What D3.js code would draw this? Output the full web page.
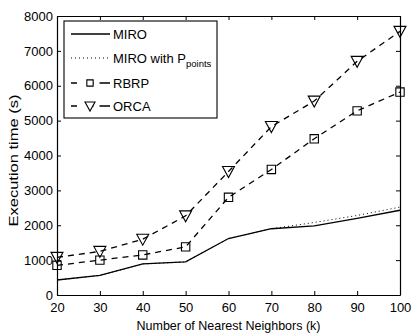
<!DOCTYPE html>
<html>
<head>
<meta charset="utf-8">
<script src="https://cdn.jsdelivr.net/npm/d3@7"></script>
<style>
  body { margin: 0; background: #fff; }
  text { font-family: "Liberation Sans", Arial, sans-serif; }
</style>
</head>
<body>
<svg id="chart" width="413" height="335"></svg>
<script>
// data
const kValues = [20, 30, 40, 50, 60, 70, 80, 90, 100];
const miro = [430, 560, 890, 950, 1620, 1900, 1980, 2200, 2430];
const miroPoints = [430, 560, 890, 950, 1620, 1900, 2080, 2280, 2520];
const rbrp = [850, 1000, 1150, 1380, 2800, 3600, 4480, 5280, 5820];
const orca = [1080, 1250, 1600, 2270, 3540, 4830, 5560, 6700, 7560];
const yTicks = [0, 1000, 2000, 3000, 4000, 5000, 6000, 7000, 8000];

const margin = {top: 16, right: 13, bottom: 40, left: 57};
const width = 413, height = 335;

const svg = d3.select('svg#chart');

const x = d3.scaleLinear().domain([20, 100]).range([margin.left, width - margin.right]);
const y = d3.scaleLinear().domain([0, 8000]).range([height - margin.bottom, margin.top]);

// axes, ticks inward (matlab box)
svg.append('g')
  .attr('transform', `translate(0,${height - margin.bottom})`)
  .call(d3.axisBottom(x).tickValues(kValues).tickSize(-4).tickPadding(8).tickSizeOuter(0))
  .call(g => g.selectAll('text').attr('font-size', 13).attr('fill', '#000'));
svg.append('g')
  .attr('transform', `translate(0,${margin.top})`)
  .call(d3.axisTop(x).tickValues(kValues).tickSize(-4).tickSizeOuter(0))
  .call(g => g.selectAll('text').remove());
svg.append('g')
  .attr('transform', `translate(${margin.left},0)`)
  .call(d3.axisLeft(y).tickValues(yTicks).tickFormat(d3.format('d')).tickSize(-4).tickPadding(4).tickSizeOuter(0))
  .call(g => g.selectAll('text').attr('font-size', 13).attr('fill', '#000'));
svg.append('g')
  .attr('transform', `translate(${width - margin.right},0)`)
  .call(d3.axisRight(y).tickValues(yTicks).tickSize(-4).tickSizeOuter(0))
  .call(g => g.selectAll('text').remove());
svg.selectAll('.domain').attr('stroke', '#000').attr('stroke-width', 1.2);

svg.append('text')
  .attr('x', (margin.left + width - margin.right) / 2)
  .attr('y', 330)
  .attr('text-anchor', 'middle')
  .attr('font-size', 13)
  .attr('textLength', 184)
  .attr('lengthAdjust', 'spacingAndGlyphs')
  .text('Number of Nearest Neighbors (k)');
svg.append('text')
  .attr('transform', `translate(18,${(margin.top + height - margin.bottom) / 2 + 5}) rotate(-90)`)
  .attr('text-anchor', 'middle')
  .attr('font-size', 13)
  .attr('textLength', 132)
  .attr('lengthAdjust', 'spacingAndGlyphs')
  .text('Execution time (s)');

const line = d3.line().x((d, i) => x(kValues[i])).y(d => y(d));

function drawSeries(vals, dash, width) {
  svg.append('path')
    .datum(vals)
    .attr('fill', 'none')
    .attr('stroke', '#000')
    .attr('stroke-width', width)
    .attr('stroke-dasharray', dash)
    .attr('d', line);
}
drawSeries(miroPoints, '1,3', 1);
drawSeries(miro, null, 1.3);
drawSeries(rbrp, '6,5', 1.3);
drawSeries(orca, '6,5', 1.3);

const square = d3.symbol().type(d3.symbolSquare).size(70);
const tri = 'M-6,-5L6,-5L0,6Z';

svg.append('g').selectAll('path')
  .data(rbrp).enter().append('path')
  .attr('transform', (d, i) => `translate(${x(kValues[i])},${y(d)})`)
  .attr('d', square)
  .attr('fill', 'none').attr('stroke', '#000').attr('stroke-width', 1.1);
svg.append('g').selectAll('path')
  .data(orca).enter().append('path')
  .attr('transform', (d, i) => `translate(${x(kValues[i])},${y(d)})`)
  .attr('d', tri)
  .attr('fill', 'none').attr('stroke', '#000').attr('stroke-width', 1.1);

// legend
const legend = svg.append('g');
legend.append('rect')
  .attr('x', 64).attr('y', 21).attr('width', 153).attr('height', 97)
  .attr('fill', '#fff').attr('stroke', '#000').attr('stroke-width', 1.1);
const items = [
  {label: 'MIRO', dash: null, marker: null, y: 34},
  {label: 'MIRO with P', sub: 'points', dash: '1,3', marker: null, y: 58},
  {label: 'RBRP', dash: '6,5', marker: 'sq', y: 83},
  {label: 'ORCA', dash: '6,5', marker: 'tri', y: 106}
];
items.forEach(it => {
  legend.append('line')
    .attr('x1', 71).attr('x2', 110).attr('y1', it.y).attr('y2', it.y)
    .attr('stroke', '#000').attr('stroke-width', it.dash === '1,3' ? 1 : 1.3)
    .attr('stroke-dasharray', it.dash === '6,5' ? '6,10.5,6' : it.dash);
  if (it.marker === 'sq') {
    legend.append('path').attr('transform', `translate(90,${it.y})`)
      .attr('d', d3.symbol().type(d3.symbolSquare).size(40))
      .attr('fill', '#fff').attr('stroke', '#000').attr('stroke-width', 1.1);
  } else if (it.marker === 'tri') {
    legend.append('path').attr('transform', `translate(90,${it.y})`)
      .attr('d', 'M-5,-4L5,-4L0,5Z')
      .attr('fill', '#fff').attr('stroke', '#000').attr('stroke-width', 1.1);
  }
  const t = legend.append('text')
    .attr('x', 113).attr('y', it.y + 5)
    .attr('font-size', 13).text(it.label);
  if (it.sub) {
    t.append('tspan').attr('font-size', 9.5).attr('dy', 4).text(it.sub);
  }
});
</script>
</body>
</html>
